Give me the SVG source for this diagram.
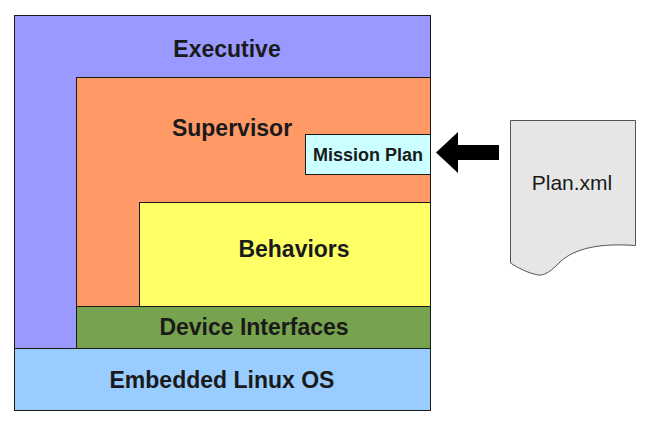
<svg xmlns="http://www.w3.org/2000/svg" width="653" height="429" viewBox="0 0 653 429">
<style>
.box{stroke:#1a1a1a;stroke-width:1}
.lbl{font-family:"Liberation Sans",Arial,sans-serif;font-weight:bold;font-size:23px;fill:#1a1a1a;text-anchor:middle}
.small{font-size:18px}
.doc{font-family:"Liberation Sans",Arial,sans-serif;font-size:21px;fill:#1a1a1a;text-anchor:middle}
</style>
<rect width="653" height="429" fill="#ffffff"/>
<g id="executive">
<rect class="box" x="14.5" y="15.5" width="416" height="333" fill="#9999ff"/>
<text class="lbl" x="227" y="57">Executive</text>
</g>
<g id="supervisor">
<rect class="box" x="76.5" y="77.5" width="354" height="229" fill="#ff9966"/>
<text class="lbl" x="232" y="136">Supervisor</text>
</g>
<g id="mission-plan">
<rect class="box" x="305.5" y="134.5" width="125" height="40" fill="#ccffff"/>
<text class="lbl small" x="368" y="161">Mission Plan</text>
</g>
<g id="behaviors">
<rect class="box" x="139.5" y="202.5" width="291" height="104" fill="#ffff66"/>
<text class="lbl" x="294" y="257">Behaviors</text>
</g>
<g id="device-interfaces">
<rect class="box" x="76.5" y="306.5" width="354" height="42" fill="#77a24e"/>
<text class="lbl" x="254" y="335">Device Interfaces</text>
</g>
<g id="linux">
<rect class="box" x="14.5" y="348.5" width="416" height="62" fill="#99ccff"/>
<text class="lbl" x="222" y="388">Embedded Linux OS</text>
</g>
<g id="plan-xml">
<path d="M510.5 120.5 H635.5 V245.5 C600 243 575 248 560 262 C552 270 545 276 538 275 C528 273 518 268 510.5 263 Z" fill="#e6e6e6" stroke="#555555" stroke-width="1"/>
<text class="doc" x="572" y="190">Plan.xml</text>
</g>
<g id="connectors">
<polygon points="436,152.5 458,132 458,145 499,145 499,160 458,160 458,173" fill="#000000"/>
</g>
</svg>
